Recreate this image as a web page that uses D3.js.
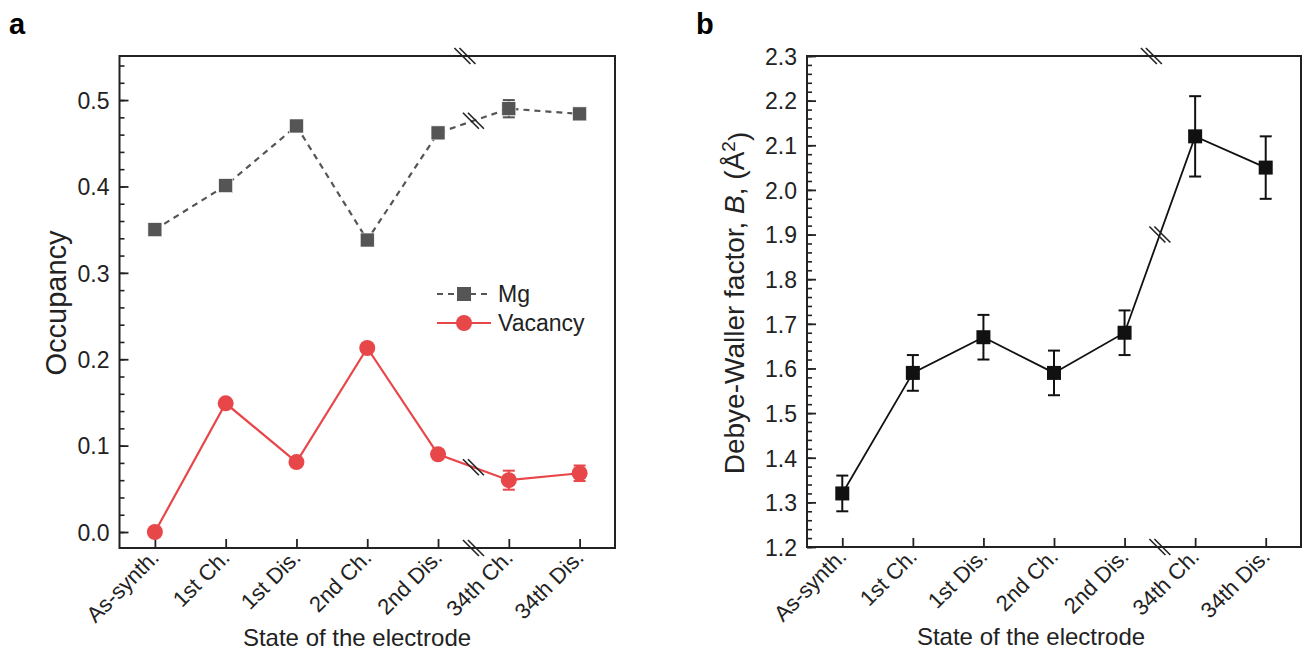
<!DOCTYPE html>
<html>
<head>
<meta charset="utf-8">
<script src="https://cdn.jsdelivr.net/npm/d3@7"></script>
<style>
  body { margin: 0; background: #fff; }
  svg { display: block; font-family: "Liberation Sans", Arial, sans-serif; }
  .tick text { fill: #222; }
</style>
</head>
<body>
<svg id="chart" width="1304" height="653"></svg>
<script>
// ---- data ----
var categories = ["As-synth.", "1st Ch.", "1st Dis.", "2nd Ch.", "2nd Dis.", "34th Ch.", "34th Dis."];

// panel a: occupancy
var mgOcc  = [0.350, 0.401, 0.470, 0.338, 0.462, 0.490, 0.484];
var mgErr  = [0.003, 0.003, 0.003, 0.003, 0.004, 0.010, 0.006];
var vacOcc = [0.000, 0.149, 0.081, 0.213, 0.090, 0.060, 0.068];
var vacErr = [0.003, 0.003, 0.003, 0.003, 0.004, 0.011, 0.009];
var occTicks = [0, 0.1, 0.2, 0.3, 0.4, 0.5];

// panel b: Debye-Waller factor
var bFactor = [1.32, 1.59, 1.67, 1.59, 1.68, 2.12, 2.05];
var bErr    = [0.04, 0.04, 0.05, 0.05, 0.05, 0.09, 0.07];
var bTicks  = [1.2, 1.3, 1.4, 1.5, 1.6, 1.7, 1.8, 1.9, 2.0, 2.1, 2.2, 2.3];

var svg = d3.select("#chart");
var ink = "#222";

// draws the box, inward ticks, rotated category labels and the axis break marks
function frame(g, x, y, majors, minorStep, fmt) {
  var x0 = x.range()[0], x1 = x.range()[1];
  var y0 = y.range()[0], y1 = y.range()[1];

  var dom = y.domain();
  var minors = d3.range(Math.ceil(dom[0] / minorStep) * minorStep, dom[1] + 1e-9, minorStep);

  g.append("g").attr("transform", "translate(" + x0 + ",0)")
    .call(d3.axisLeft(y).tickValues(minors).tickSize(-5).tickFormat(""))
    .call(function(a) { a.select(".domain").remove(); })
    .selectAll("line").attr("stroke", ink).attr("stroke-width", 1.6);

  var ya = g.append("g").attr("transform", "translate(" + x0 + ",0)")
    .call(d3.axisLeft(y).tickValues(majors).tickSize(-9).tickPadding(10).tickFormat(fmt));
  ya.select(".domain").remove();
  ya.selectAll("line").attr("stroke", ink).attr("stroke-width", 1.8);
  ya.selectAll("text").style("font-size", "23px").attr("dy", "0.36em");

  var xa = g.append("g").attr("transform", "translate(0," + y0 + ")")
    .call(d3.axisBottom(x).tickValues(d3.range(categories.length)).tickSize(-9)
      .tickFormat(function(i) { return categories[i]; }));
  xa.select(".domain").remove();
  xa.selectAll("line").attr("stroke", ink).attr("stroke-width", 1.8);
  xa.selectAll("text")
    .attr("y", null).attr("dy", null)
    .attr("transform", "translate(5,11) rotate(-45)")
    .style("text-anchor", "end")
    .style("font-size", "22px");

  g.append("rect")
    .attr("x", x0).attr("y", y1)
    .attr("width", x1 - x0).attr("height", y0 - y1)
    .attr("fill", "none").attr("stroke", ink).attr("stroke-width", 2);

  breakMark(g, x(4.38), y1);
  breakMark(g, x(4.5), y0);
}

function breakMark(g, cx, cy) {
  [-2.5, 2.5].forEach(function(o) {
    g.append("line")
      .attr("x1", cx + o - 8).attr("y1", cy - 8)
      .attr("x2", cx + o + 8).attr("y2", cy + 8)
      .attr("stroke", ink).attr("stroke-width", 1.6);
  });
}

function errorBars(g, x, y, vals, errs, color, cap) {
  var eb = g.append("g").attr("stroke", color).attr("stroke-width", 2);
  vals.forEach(function(v, i) {
    var cx = x(i);
    eb.append("line").attr("x1", cx).attr("x2", cx).attr("y1", y(v - errs[i])).attr("y2", y(v + errs[i]));
    [v - errs[i], v + errs[i]].forEach(function(e) {
      eb.append("line").attr("x1", cx - cap).attr("x2", cx + cap).attr("y1", y(e)).attr("y2", y(e));
    });
  });
}

// ================= panel a =================
var ga = svg.append("g");
var xA = d3.scaleLinear().domain([-0.5, 6.5]).range([119.5, 615]);
var yA = d3.scaleLinear().domain([-0.0185, 0.551]).range([548, 56]);

frame(ga, xA, yA, occTicks, 0.02, d3.format(".1f"));

var line = d3.line().x(function(d, i) { return xA(i); }).y(function(d) { return yA(d); });

ga.append("path").datum(mgOcc).attr("d", line)
  .attr("fill", "none").attr("stroke", "#555").attr("stroke-width", 2.2).attr("stroke-dasharray", "6,5");
ga.append("path").datum(vacOcc).attr("d", line)
  .attr("fill", "none").attr("stroke", "#e8474a").attr("stroke-width", 2.2);

errorBars(ga, xA, yA, mgOcc, mgErr, "#555", 6);
errorBars(ga, xA, yA, vacOcc, vacErr, "#e8474a", 6);

ga.selectAll(".mg").data(mgOcc).enter().append("rect")
  .attr("x", function(d, i) { return xA(i) - 7; })
  .attr("y", function(d) { return yA(d) - 7; })
  .attr("width", 14).attr("height", 14)
  .attr("fill", "#555").attr("stroke", "#fff").attr("stroke-width", 0.6);
ga.selectAll(".vac").data(vacOcc).enter().append("circle")
  .attr("cx", function(d, i) { return xA(i); })
  .attr("cy", function(d) { return yA(d); })
  .attr("r", 8).attr("fill", "#e8474a");

// break marks on the two series lines
breakMark(ga, (xA(4) + xA(5)) / 2, (yA(mgOcc[4]) + yA(mgOcc[5])) / 2);
breakMark(ga, (xA(4) + xA(5)) / 2, (yA(vacOcc[4]) + yA(vacOcc[5])) / 2);

// legend
var lg = ga.append("g").attr("transform", "translate(437,294)");
lg.append("line").attr("x1", 0).attr("x2", 54).attr("y1", 0).attr("y2", 0)
  .attr("stroke", "#555").attr("stroke-width", 2.2).attr("stroke-dasharray", "6,5");
lg.append("rect").attr("x", 20).attr("y", -7).attr("width", 14).attr("height", 14).attr("fill", "#555");
lg.append("text").attr("x", 61).attr("y", 0).attr("dy", "0.36em")
  .style("font-size", "23px").attr("fill", ink).text("Mg");
lg.append("line").attr("x1", 0).attr("x2", 54).attr("y1", 29).attr("y2", 29)
  .attr("stroke", "#e8474a").attr("stroke-width", 2.2);
lg.append("circle").attr("cx", 27).attr("cy", 29).attr("r", 8).attr("fill", "#e8474a");
lg.append("text").attr("x", 61).attr("y", 29).attr("dy", "0.36em")
  .style("font-size", "23px").attr("fill", ink).text("Vacancy");

ga.append("text").attr("transform", "translate(66,303) rotate(-90)")
  .attr("text-anchor", "middle").style("font-size", "29px").attr("fill", ink).text("Occupancy");
ga.append("text").attr("x", 357).attr("y", 646)
  .attr("text-anchor", "middle").style("font-size", "24px").attr("fill", ink).text("State of the electrode");
ga.append("text").attr("x", 9).attr("y", 34)
  .style("font-size", "29px").style("font-weight", "bold").attr("fill", "#000").text("a");

// ================= panel b =================
var gb = svg.append("g");
var xB = d3.scaleLinear().domain([-0.5, 6.5]).range([807, 1301]);
var yB = d3.scaleLinear().domain([1.2, 2.3]).range([547, 56]);

frame(gb, xB, yB, bTicks, 0.02, d3.format(".1f"));

var lineB = d3.line().x(function(d, i) { return xB(i); }).y(function(d) { return yB(d); });
gb.append("path").datum(bFactor).attr("d", lineB)
  .attr("fill", "none").attr("stroke", "#111").attr("stroke-width", 1.8);

errorBars(gb, xB, yB, bFactor, bErr, "#111", 6);

gb.selectAll(".bf").data(bFactor).enter().append("rect")
  .attr("x", function(d, i) { return xB(i) - 7; })
  .attr("y", function(d) { return yB(d) - 7; })
  .attr("width", 14).attr("height", 14)
  .attr("fill", "#111");

breakMark(gb, (xB(4) + xB(5)) / 2, (yB(bFactor[4]) + yB(bFactor[5])) / 2);

var yl = gb.append("text").attr("transform", "translate(744,303) rotate(-90)")
  .attr("text-anchor", "middle").style("font-size", "28px").attr("fill", ink);
yl.append("tspan").text("Debye-Waller factor, ");
yl.append("tspan").style("font-style", "italic").text("B");
yl.append("tspan").text(", (Å");
yl.append("tspan").attr("dy", "-0.45em").style("font-size", "19px").text("2");
yl.append("tspan").attr("dy", "0.45em").text(")");

gb.append("text").attr("x", 1031).attr("y", 645)
  .attr("text-anchor", "middle").style("font-size", "24px").attr("fill", ink).text("State of the electrode");
gb.append("text").attr("x", 696).attr("y", 34)
  .style("font-size", "29px").style("font-weight", "bold").attr("fill", "#000").text("b");
</script>
</body>
</html>
